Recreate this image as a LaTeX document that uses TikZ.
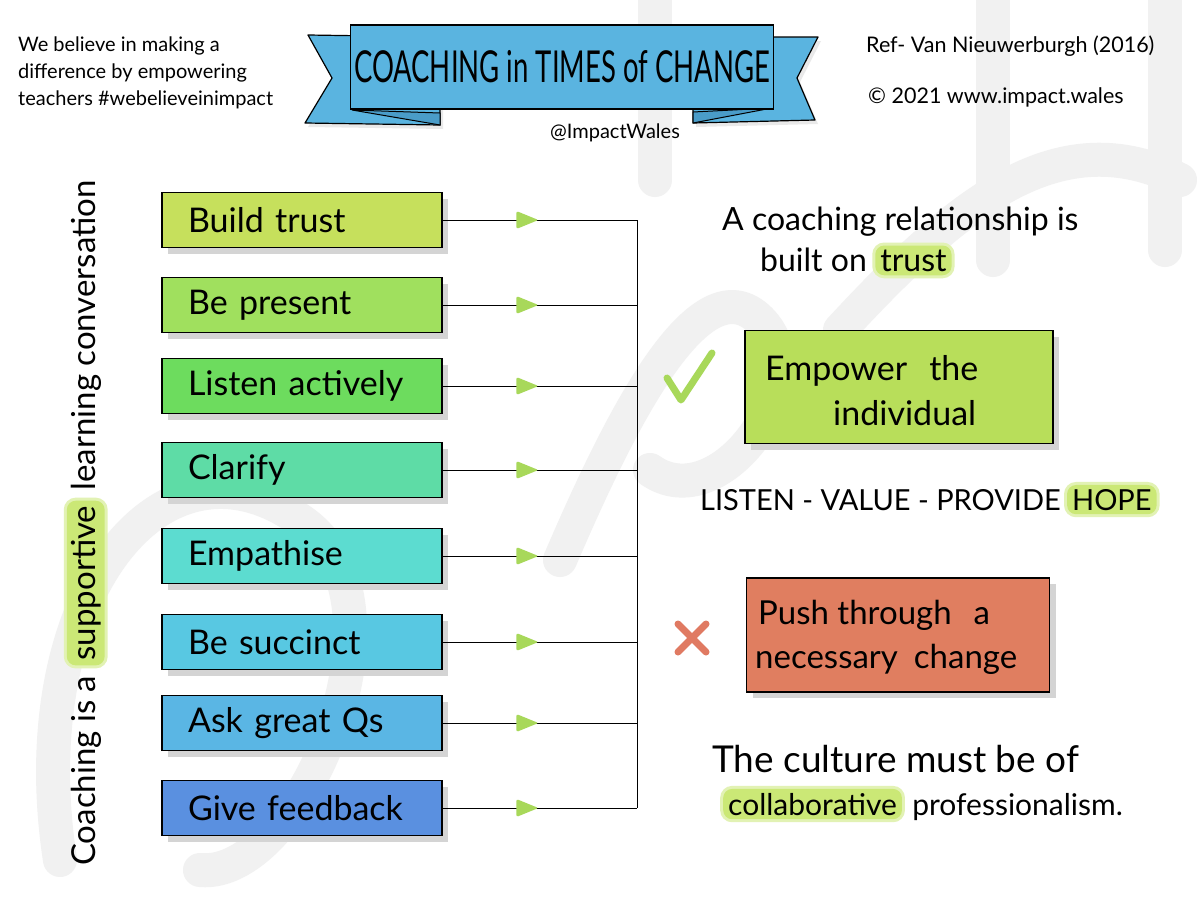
\documentclass[tikz,border=0pt]{standalone}
\usepackage{fontspec}
\setmainfont{Lato}
\usetikzlibrary{shadows,decorations.markings,calc}
\definecolor{cA}{HTML}{C6E05C}
\definecolor{cB}{HTML}{A0E05E}
\definecolor{cC}{HTML}{6DDC5E}
\definecolor{cD}{HTML}{5EDCA6}
\definecolor{cE}{HTML}{5CDCD0}
\definecolor{cF}{HTML}{58C8E2}
\definecolor{cG}{HTML}{5AB6E4}
\definecolor{cH}{HTML}{5A90E0}
\definecolor{ribbon}{HTML}{5AB4E0}
\definecolor{ribbondark}{HTML}{4A9CC8}
\definecolor{agreen}{HTML}{A8D85A}
\definecolor{empcol}{HTML}{B8DE5A}
\definecolor{pushcol}{HTML}{E07E60}
\definecolor{xcol}{HTML}{E07A62}
\definecolor{hlgreen}{HTML}{CBE876}
\definecolor{shadowgray}{HTML}{D4D4D4}
\definecolor{wm}{HTML}{F1F1F1}
\newcommand\fsz[2]{\fontsize{#1}{#2}\selectfont}
\begin{document}
\begin{tikzpicture}[x=1pt,y=-1pt,
  boxshadow/.style={drop shadow={shadow xshift=6pt,shadow yshift=-6pt,fill=shadowgray,opacity=1}},
  stepbox/.style={draw=black,line width=1.3pt,rectangle,minimum height=55pt,
    text width=228pt,inner xsep=26pt,align=left,font=\fsz{34}{40},boxshadow},
  bigbox/.style={draw=black,line width=1.3pt,rectangle,boxshadow},
  hl/.style={inner xsep=5pt,inner ysep=4pt,
    preaction={draw=hlgreen!55,line width=6pt,rounded corners=10pt},
    fill=hlgreen,rounded corners=9pt},
  plain/.style={inner sep=0pt},
  conn/.style={line width=1pt,draw=black,postaction={decorate},
    decoration={markings,mark=at position 0.436 with {\fill[agreen,rounded corners=2pt] (-11pt,-9pt) -- (11pt,0pt) -- (-11pt,9pt) -- cycle;}}},
  wmstroke/.style={draw=wm,line width=34pt,line cap=round,line join=round}
]
\useasboundingbox[fill=white] (0,0) rectangle (1200,902);

% faint watermark strokes
\draw[wmstroke] (60,860) .. controls (20,600) and (160,420) .. (300,520) .. controls (420,600) and (300,880) .. (200,870);
\draw[wmstroke] (560,560) .. controls (620,420) and (700,260) .. (760,320) .. controls (820,380) and (720,520) .. (650,470);
\draw[wmstroke] (840,330) .. controls (960,200) and (1060,120) .. (1180,180);
\draw[wmstroke] (993,0) -- (993,260);
\draw[wmstroke] (1165,0) -- (1165,250);
\draw[wmstroke] (655,0) -- (655,180);

% top left text
\node[anchor=north west,align=left,font=\fsz{20}{27},inner sep=0pt] (intro) at (18,37)
  {We believe in making a\\difference by empowering\\teachers \#webelieveinimpact};

% ribbon
\filldraw[fill=ribbon,draw=black,line width=1.2pt,line join=round,drop shadow={shadow xshift=3pt,shadow yshift=-4pt,fill=shadowgray}]
  (440,37) -- (308,35) -- (332,78) -- (305,123) -- (440,125) -- cycle;
\filldraw[fill=ribbon,draw=black,line width=1.2pt,line join=round,drop shadow={shadow xshift=3pt,shadow yshift=-4pt,fill=shadowgray}]
  (693,37) -- (818,37) -- (797,78) -- (815,120) -- (693,123) -- cycle;
\filldraw[fill=ribbondark,draw=black,line width=1pt] (352,110) -- (440,113) -- (440,125) -- cycle;
\filldraw[fill=ribbondark,draw=black,line width=1pt] (772,108) -- (693,112) -- (693,123) -- cycle;
\node[draw=black,fill=ribbon,line width=1.3pt,minimum width=420pt,minimum height=84pt] (title) at (562,67)
  {\scalebox{1}[1.6]{\fsz{27.5}{30}COACHING in TIMES of CHANGE}};
\node[anchor=base,font=\fsz{20}{24},inner sep=0pt] (handle) at (615,138) {@ImpactWales};

% top right text
\node[anchor=base west,font=\fsz{21.5}{26},inner sep=0pt] (ref) at (866,52) {Ref- Van Nieuwerburgh (2016)};
\node[anchor=base west,font=\fsz{21.5}{26},inner sep=0pt] (copy) at (868,103) {© 2021 www.impact.wales};

% vertical text
\node[plain,rotate=90,anchor=base west,font=\fsz{33}{40}] (v1) at (95,866) {Coaching is a};
\node[hl,rotate=90,anchor=base west,font=\fsz{33}{40}] (v2) at ([yshift=10pt]v1.base east) {supportive};
\node[plain,rotate=90,anchor=base west,font=\fsz{33}{40}] (v3) at ([yshift=10pt]v2.base east) {learning conversation};

% step boxes
\node[stepbox,fill=cA] (b1) at (302,220) {Build trust};
\node[stepbox,fill=cB] (b2) at (302,305) {Be present};
\node[stepbox,fill=cC] (b3) at (302,386) {Listen actively};
\node[stepbox,fill=cD] (b4) at (302,470) {Clarify};
\node[stepbox,fill=cE] (b5) at (302,556) {Empathise};
\node[stepbox,fill=cF] (b6) at (302,642) {Be succinct};
\node[stepbox,fill=cG] (b7) at (302,723) {Ask great Qs};
\node[stepbox,fill=cH] (b8) at (302,808) {Give feedback};

\foreach \i in {1,...,8}{
  \coordinate (j\i) at (637,0 |- b\i.east);
  \draw[conn] (b\i.east) -- (j\i);
}
\draw[line width=1pt] (j1) -- (j8);

% right side
\node[anchor=base west,font=\fsz{32}{38},inner sep=0pt] (rel1) at (722,230) {A coaching relationship is};
\node[anchor=base west,font=\fsz{32}{38},inner sep=0pt] (rel2) at (760,271) {built on};
\node[hl,anchor=base west,font=\fsz{32}{38}] (rel3) at ([xshift=8pt]rel2.base east) {trust};

\draw[agreen,line width=7pt,line cap=round,line join=round] (667,378) -- (681,400) -- (712,353);
\node[bigbox,fill=empcol,minimum width=308pt,minimum height=113pt] (emp) at (899,387) {};
\node[anchor=base west,font=\fsz{34}{40},inner sep=0pt] (emp1) at (765,380) {Empower\hspace{22pt}the};
\node[anchor=base west,font=\fsz{34}{40},inner sep=0pt] (emp2) at (833,425) {individual};

\node[anchor=base west,font=\fsz{29}{34},inner sep=0pt] (lvp) at (700,510) {LISTEN - VALUE - PROVIDE};
\node[hl,anchor=base west,font=\fsz{29}{34}] (hope) at ([xshift=6pt]lvp.base east) {HOPE};

\draw[xcol,line width=7pt,line cap=round] (678,624) -- (706,652);
\draw[xcol,line width=7pt,line cap=round] (706,624) -- (678,652);
\node[bigbox,fill=pushcol,minimum width=303pt,minimum height=114pt] (push) at (898,635) {};
\node[anchor=base west,font=\fsz{33}{38},inner sep=0pt] (push1) at (758,624) {Push through\hspace{22pt}a};
\node[anchor=base west,font=\fsz{33}{38},inner sep=0pt] (push2) at (755,668) {necessary\hspace{16pt}change};

\node[anchor=base west,font=\fsz{37}{44},inner sep=0pt] (cul1) at (712,772) {The culture must be of};
\node[hl,anchor=base west,font=\fsz{30}{36}] (cul2) at (723,815) {collaborative};
\node[anchor=base west,font=\fsz{30}{36},inner sep=0pt] (cul3) at ([xshift=10pt]cul2.base east) {professionalism.};
\end{tikzpicture}
\end{document}
